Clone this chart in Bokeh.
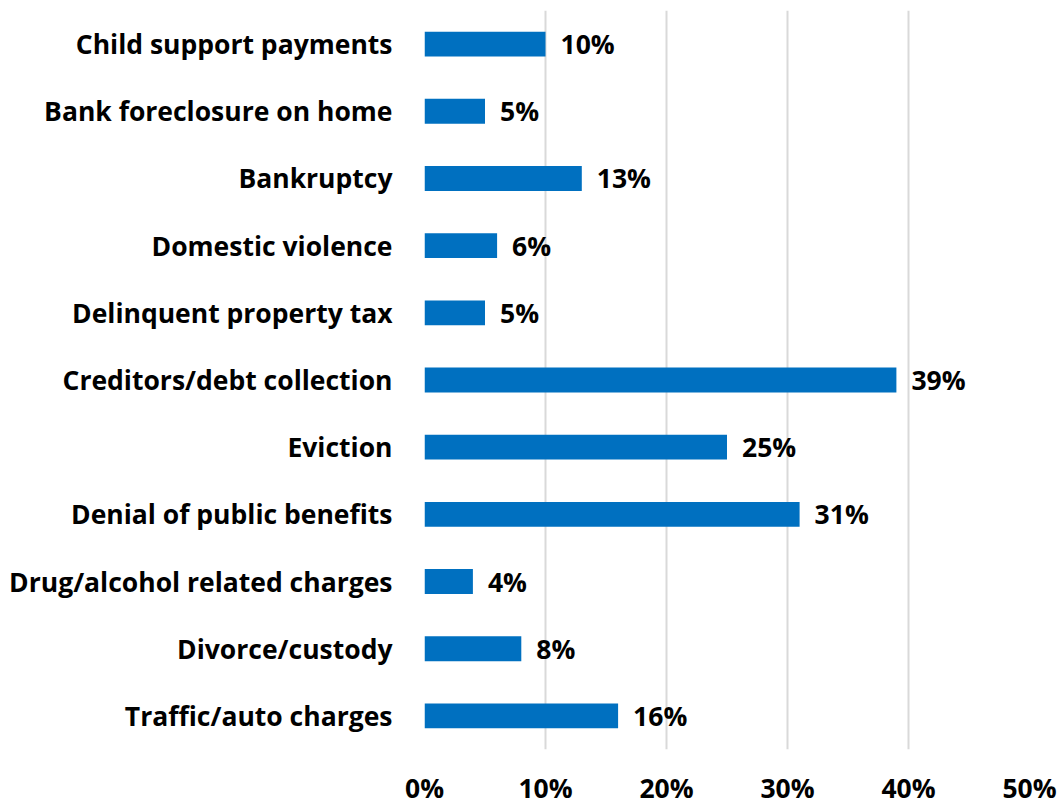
from bokeh.plotting import figure
from bokeh.models import ColumnDataSource, FixedTicker, PrintfTickFormatter
from bokeh.core.properties import value
from bokeh.embed import file_html
from bokeh.resources import INLINE

categories = [
    "Child support payments",
    "Bank foreclosure on home",
    "Bankruptcy",
    "Domestic violence",
    "Delinquent property tax",
    "Creditors/debt collection",
    "Eviction",
    "Denial of public benefits",
    "Drug/alcohol related charges",
    "Divorce/custody",
    "Traffic/auto charges",
]
values = [10, 5, 13, 6, 5, 39, 25, 31, 4, 8, 16]
labels = [f"{v}%" for v in values]
x_ticks = [0, 10, 20, 30, 40, 50]

FONT = "Open Sans"
FS = "26.5px"

src = ColumnDataSource(dict(cat=categories, val=values, lab=labels))

p = figure(
    y_range=list(reversed(categories)),
    x_range=(0, 50),
    width=1058, height=808,
    output_backend="svg", toolbar_location=None,
    min_border_left=424, min_border_right=29, min_border_top=10, min_border_bottom=0,
)

p.hbar(y="cat", right="val", left=0, height=0.37, source=src,
       fill_color="#0070C0", line_color=None)

p.text(x="val", y="cat", text="lab", source=src, x_offset=15,
       text_align="left", text_baseline="middle",
       text_font=value(FONT), text_font_style="bold", text_font_size=FS,
       text_color="#000000")

p.outline_line_color = None
p.ygrid.grid_line_color = None
p.xgrid.grid_line_color = "#d9d9d9"
p.xgrid.grid_line_width = 2
p.xaxis.ticker = FixedTicker(ticks=x_ticks)
p.xaxis.formatter = PrintfTickFormatter(format="%d%%")

for ax in (p.xaxis[0], p.yaxis[0]):
    ax.axis_line_color = None
    ax.major_tick_line_color = None
    ax.minor_tick_line_color = None
    ax.major_label_text_font = FONT
    ax.major_label_text_font_style = "bold"
    ax.major_label_text_font_size = FS
    ax.major_label_text_color = "#000000"

p.xaxis.major_label_standoff = 14
p.yaxis.major_label_standoff = 26

open("out.html", "w").write(file_html(p, INLINE))
